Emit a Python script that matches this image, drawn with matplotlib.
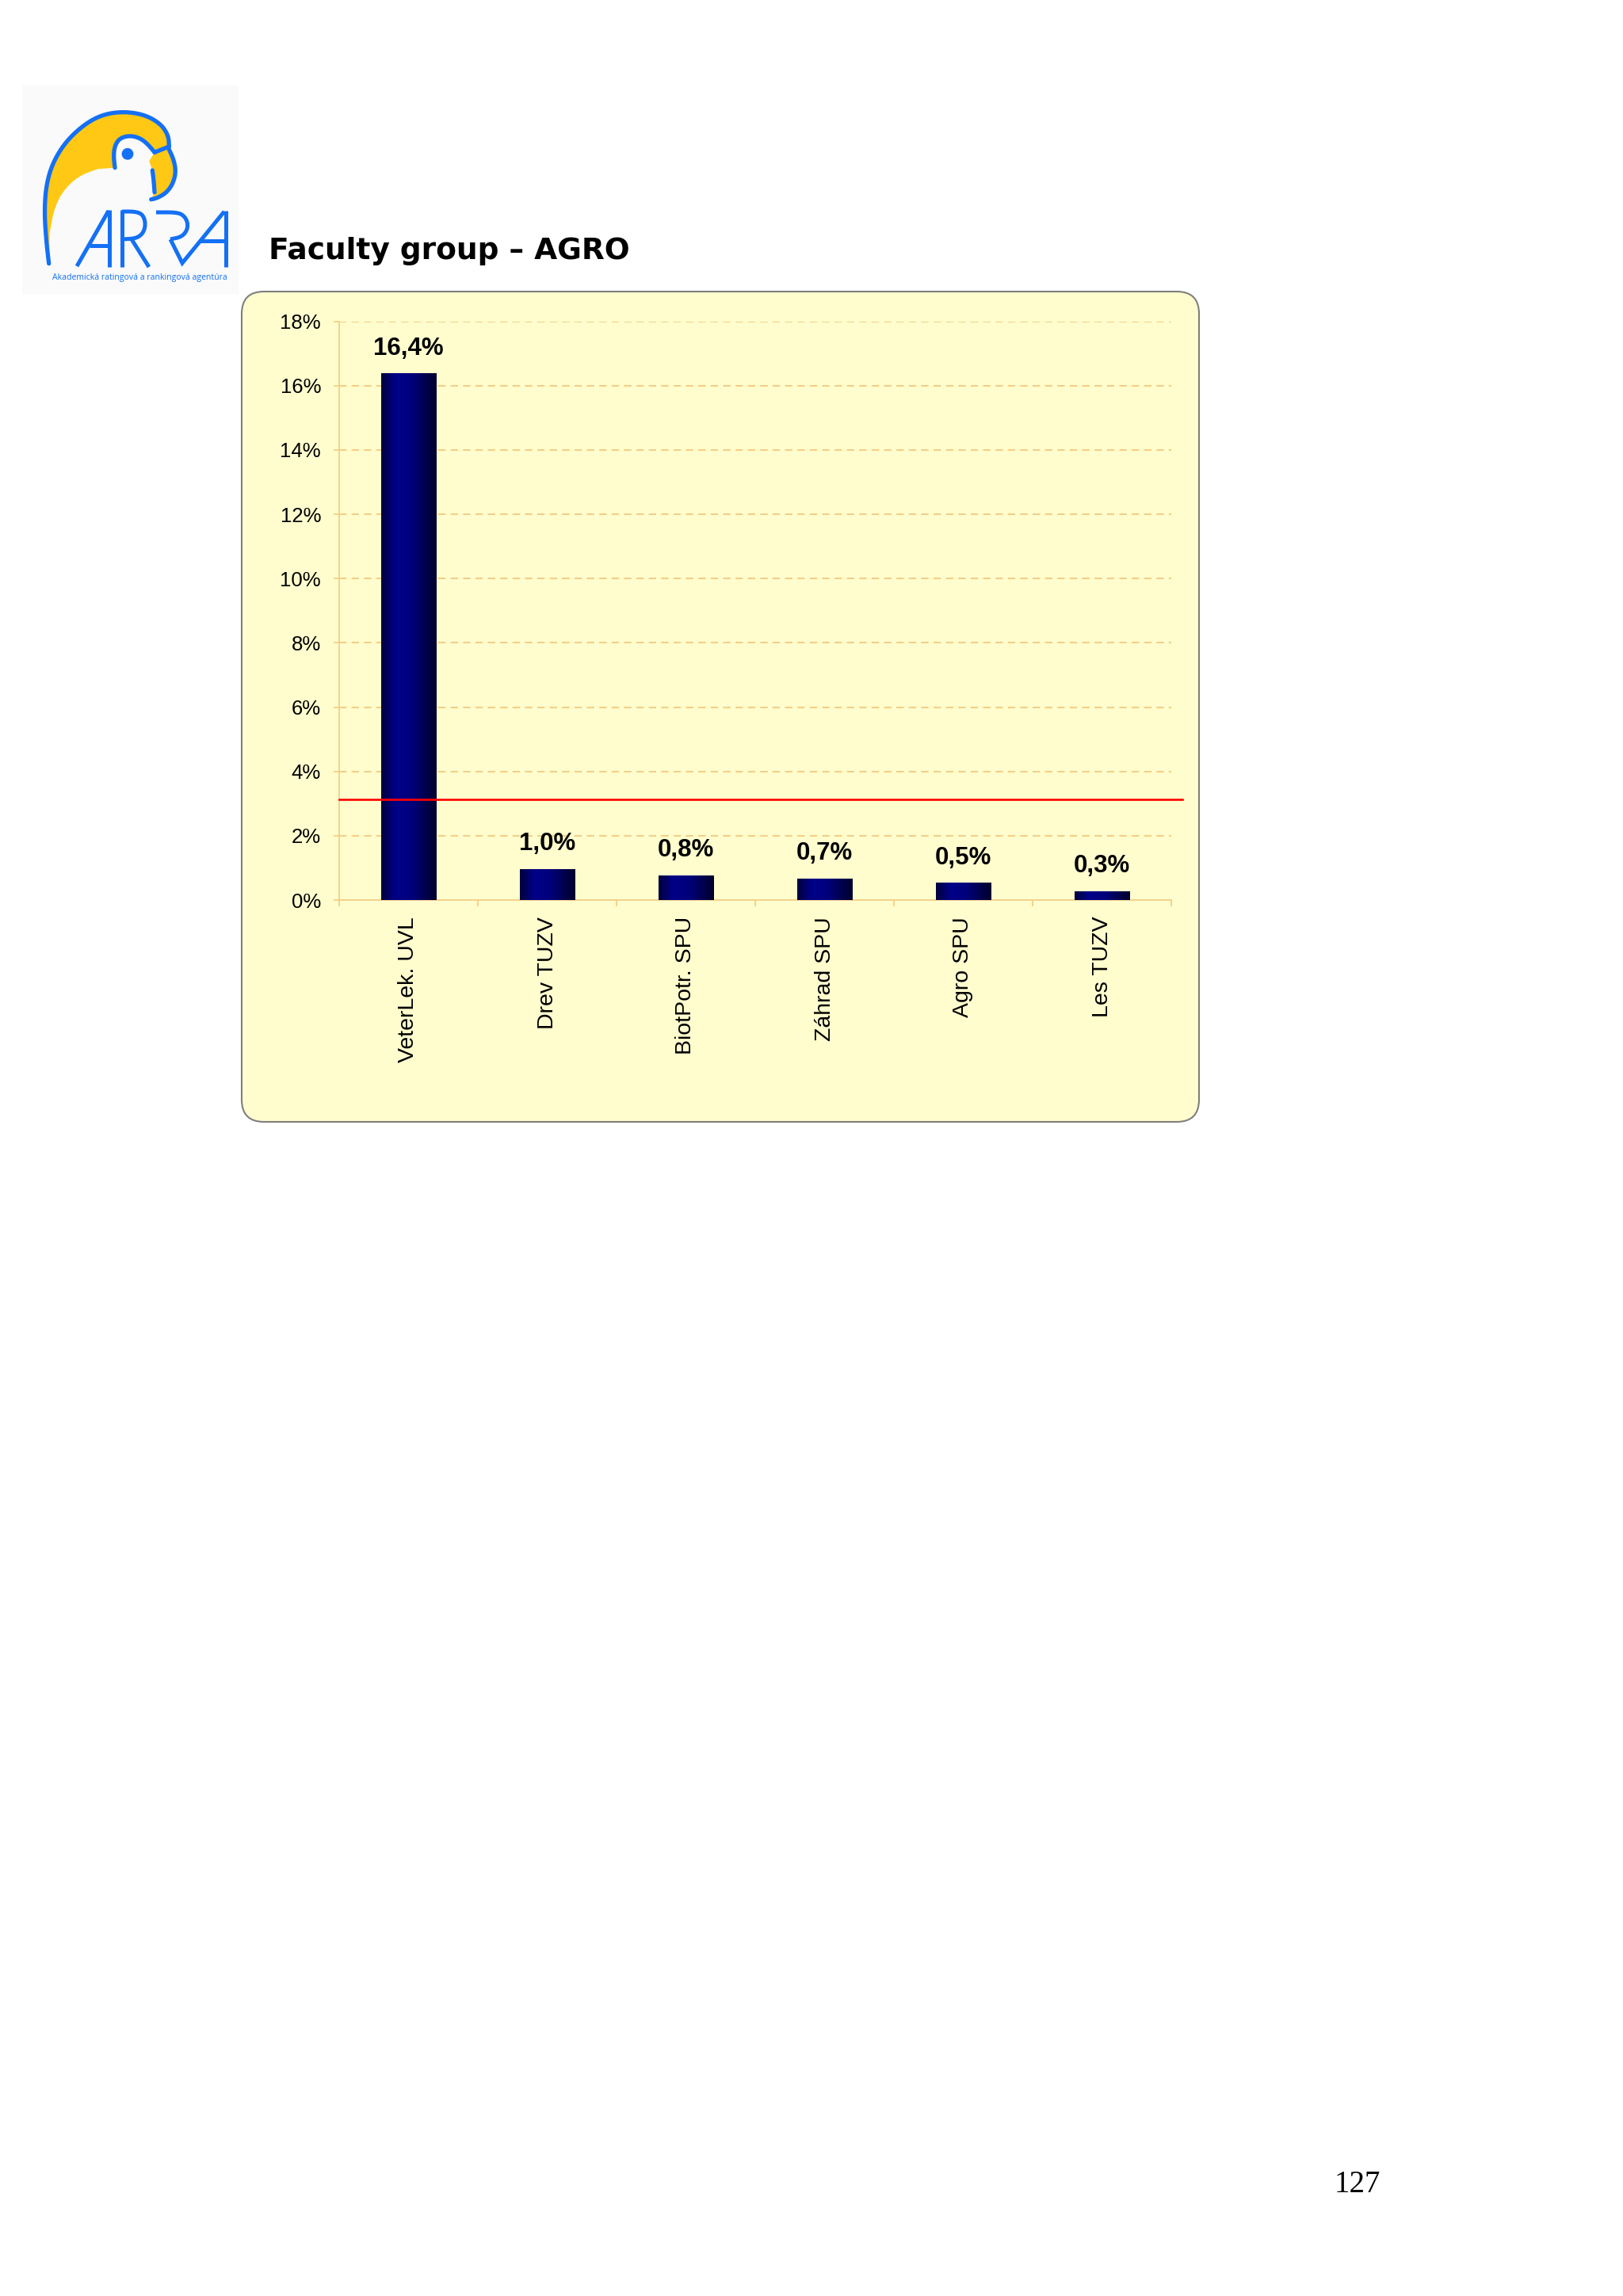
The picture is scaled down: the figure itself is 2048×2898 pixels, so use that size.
import numpy as np
import matplotlib
matplotlib.use('Agg')
import matplotlib.pyplot as plt
from matplotlib.patches import FancyBboxPatch, Polygon, Circle, Rectangle
from matplotlib.colors import LinearSegmentedColormap

# chart data
categories = ['VeterLek. UVL', 'Drev TUZV', 'BiotPotr. SPU', 'Záhrad SPU', 'Agro SPU', 'Les TUZV']
shares = [16.37, 0.96, 0.76, 0.66, 0.52, 0.26]
average_share = 3.14
y_ticks = [0, 2, 4, 6, 8, 10, 12, 14, 16, 18]

W, H = 2048, 2898
BLUE = '#1470F5'
YELLOW = '#FFC814'
ORANGE = '#F2CF88'


def smooth(pts, n=3):
    # Chaikin corner cutting for the logo outline (open polyline, keeps ends)
    p = np.array(pts, dtype=float)
    for _ in range(n):
        a, b = p[:-1], p[1:]
        mid = np.empty((2 * len(a), 2))
        mid[0::2] = 0.75 * a + 0.25 * b
        mid[1::2] = 0.25 * a + 0.75 * b
        p = np.vstack([p[:1], mid, p[-1:]])
    return p


fig = plt.figure(figsize=(W / 100, H / 100), dpi=100)
fig.patch.set_facecolor('white')

# page layer in pixel coordinates
page = fig.add_axes([0, 0, 1, 1])
page.set_xlim(0, W)
page.set_ylim(H, 0)
page.axis('off')

# --- logo ---
page.add_patch(Rectangle((28, 108), 272, 262, color='#FAFAFA', zorder=0))
outer = [(61.7, 332.7), (58.3, 303.3), (56, 266.7), (58.3, 233.3), (66.7, 205),
         (83.3, 178.3), (106.7, 156.7), (130, 144.3), (156.7, 140.7), (183.3, 145),
         (203.3, 156.7), (212.7, 171.7), (213.3, 185)]
head = [(203.3, 189), (195, 192.3), (188.3, 184), (178.3, 175), (165, 171),
        (151.7, 174), (145, 183.3), (143.3, 196.7), (145, 211.7)]
beak = [(212.7, 187.3), (219.3, 201.7), (222, 216.7), (218.3, 231.7), (210, 243.3),
        (198.3, 250), (190.7, 251.7)]
mandible = [(192.3, 215), (194, 228.3), (195, 242.7)]
body = [(123.3, 213.3), (100, 221.7), (80, 240), (68.3, 263.3), (62.7, 293.3)]

yellow_pts = np.vstack([smooth(outer), smooth(beak), mandible[::-1],
                        [(188.3, 203.3), (195, 192.3)], smooth(head[2:]), smooth(body)])
page.add_patch(Polygon(yellow_pts, closed=True, color=YELLOW, lw=0, zorder=1))
for pts in [outer, head[1:], beak, mandible, [(213.3, 185), (203.3, 189), (195, 192.3)]]:
    sp = smooth(pts)
    page.plot(sp[:, 0], sp[:, 1], color=BLUE, lw=3.8, solid_capstyle='round',
              solid_joinstyle='round', zorder=2)
page.add_patch(Circle((161, 194.3), 6.7, color=BLUE, zorder=2))

# ARRA lettering
straight = [
    [(97, 336), (137, 266)], [(138, 265), (138, 337)], [(113, 310), (138, 310)],
    [(154, 265), (154, 337)], [(166, 302), (188, 337)],
    [(215, 302), (230, 332), (283, 267)],
    [(285, 266), (285, 337)], [(253, 304), (285, 304)],
]
bowls = [
    [(154, 267), (170, 267), (179, 270), (183, 278), (183, 288), (179, 296), (171, 301), (154, 302)],
    [(197, 268), (223, 268), (232, 272), (237, 281), (236, 291), (229, 299), (215, 302)],
]
for pts in straight:
    xs, ys = zip(*pts)
    page.plot(xs, ys, color=BLUE, lw=3.6, solid_capstyle='butt', solid_joinstyle='miter', zorder=2)
for pts in bowls:
    sp = smooth(pts, n=2)
    page.plot(sp[:, 0], sp[:, 1], color=BLUE, lw=3.6, solid_capstyle='butt', zorder=2)
page.text(176, 351, 'Akademická ratingová a rankingová agentúra', ha='center', va='center',
          fontsize=7.6, color=BLUE, family='Open Sans', zorder=2)

# --- title and page number ---
page.text(339, 327, 'Faculty group – AGRO', fontsize=27, fontweight='bold',
          family='DejaVu Sans', ha='left', va='baseline')
page.text(1742, 2767, '127', fontsize=28, family='Liberation Serif', ha='right', va='baseline')

# --- chart panel ---
page.add_patch(FancyBboxPatch((305, 368), 1208, 1048, boxstyle='round,pad=0,rounding_size=28',
                              facecolor='#FFFDCD', edgecolor='#7F7F7F', lw=1.5, zorder=0))

# --- bar chart ---
plt.rcParams['font.family'] = ['Liberation Sans', 'DejaVu Sans']
ax = fig.add_axes([428 / W, 1 - 1136 / H, (1478 - 428) / W, (1136 - 405.7) / H])
ax.patch.set_alpha(0)

x = np.arange(len(categories))
bar_w = 0.4
bars = ax.bar(x, shares, width=bar_w, color='#000080', zorder=3)

# horizontal shading on the bars
navy = LinearSegmentedColormap.from_list('navy', [(0, '#00003C'), (0.25, '#000088'),
                                                  (0.55, '#00007C'), (1, '#00002C')])
grad = np.linspace(0, 1, 64).reshape(1, -1)
for b in bars:
    ax.imshow(grad, cmap=navy, aspect='auto', zorder=4,
              extent=[b.get_x(), b.get_x() + b.get_width(), 0, b.get_height()])

for xi, v in zip(x, shares):
    ax.annotate(f'{v:.1f}'.replace('.', ',') + '%', xy=(xi, v), xytext=(0, 17.5),
                textcoords='offset points', ha='center', va='baseline',
                fontsize=22.5, fontweight='bold', zorder=6)

ax.axhline(average_share, xmin=0, xmax=1 + 14 / 1050, color='#FF0000', lw=1.9,
           clip_on=False, zorder=5)

ax.set_xlim(-0.5, len(categories) - 0.5)
ax.set_ylim(0, 18)
ax.set_yticks(y_ticks)
ax.set_yticklabels([f'{t}%' for t in y_ticks])
ax.yaxis.grid(True, linestyle=(0, (4.5, 3)), color=ORANGE, lw=1.5, zorder=1)
ax.set_axisbelow(True)

ax.set_xticks(x)
ax.set_xticklabels(categories, rotation=90, fontsize=20.5)
ax.set_xticks(np.arange(-0.5, len(categories)), minor=True)
ax.tick_params(axis='x', which='major', length=0, pad=15)
ax.tick_params(axis='x', which='minor', length=6, color=ORANGE, width=1.3)
ax.tick_params(axis='y', length=5, color=ORANGE, width=1.3, labelsize=18.5, pad=11.5)

for s in ['top', 'right']:
    ax.spines[s].set_visible(False)
for s in ['left', 'bottom']:
    ax.spines[s].set_color(ORANGE)
    ax.spines[s].set_linewidth(1.3)

fig.savefig('out.png', dpi=100, facecolor='white')
